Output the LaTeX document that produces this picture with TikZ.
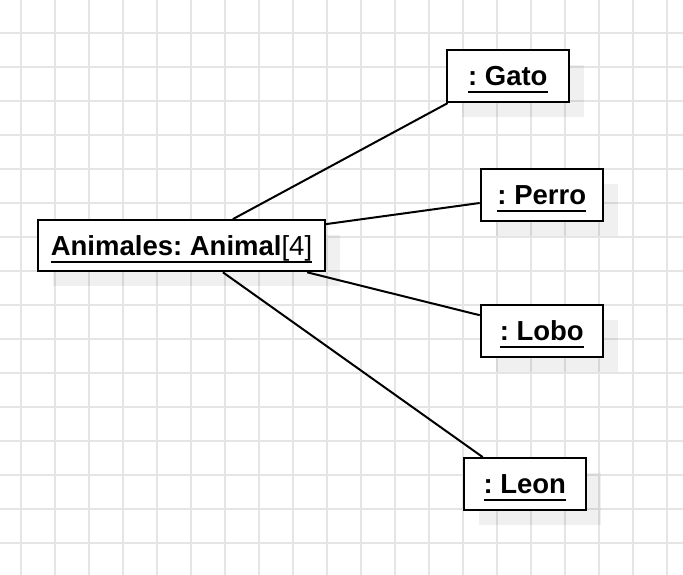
\documentclass[tikz,border=0pt]{standalone}
\usepackage{fontspec}
\setmainfont{Liberation Sans}
\usetikzlibrary{calc,shadows}
\newcommand\myul[1]{\setbox0\hbox{#1}\rlap{\rule[-7.5pt]{\wd0}{2pt}}\box0}
\begin{document}
\frenchspacing
\begin{tikzpicture}[x=1pt,y=-1pt,
  obj/.style={draw=black, line width=2.2pt, fill=white, inner sep=0pt,
    minimum width=122pt, minimum height=52pt,
    text height=19.5pt, text depth=0pt,
    font=\fontsize{27.5}{32}\selectfont\bfseries,
    drop shadow={shadow xshift=15pt, shadow yshift=-15pt, fill=black, opacity=0.06}},
  link/.style={draw=black, line width=2pt},
  gridline/.style={draw=gray!20, line width=1.5pt}]
\useasboundingbox (0,0) rectangle (683,575);
\fill[white] (0,0) rectangle (683,575);
\foreach \i in {0,...,19} \draw[gridline] (21+34*\i,0) -- (21+34*\i,575);
\foreach \j in {0,...,15} \draw[gridline] (0,33+34*\j) -- (683,33+34*\j);

\node[obj, minimum width=287pt, minimum height=51pt] (anim) at (181.5,245.7) {\myul{Animales: Animal\mdseries[4]}};
\node[obj] (gato) at (507.8,76) {\myul{: Gato}};
\node[obj] (perro) at (541.8,195) {\myul{: Perro}};
\node[obj] (lobo) at (541.8,331.2) {\myul{: Lobo}};
\node[obj] (leon) at (524.8,484.2) {\myul{: Leon}};

\draw[link] ($(anim.north west)+(196,0)$) -- ($(gato.south west)+(2,0)$);
\draw[link] ($(anim.north east)+(0,5)$) -- ($(perro.west)+(0,8)$);
\draw[link] ($(anim.south east)+(-19,0)$) -- ($(lobo.west)+(0,-16)$);
\draw[link] ($(anim.south west)+(186,0)$) -- ($(leon.north west)+(20,0)$);
\end{tikzpicture}
\end{document}
